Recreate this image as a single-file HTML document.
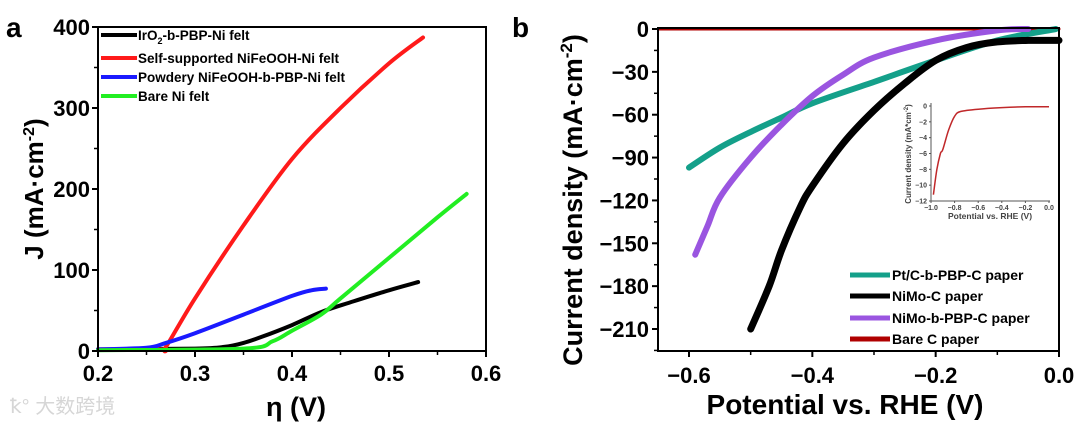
<!DOCTYPE html>
<html><head><meta charset="utf-8"><style>
html,body{margin:0;padding:0;background:#fff;}
svg{display:block;font-family:"Liberation Sans",Arial,sans-serif;}
</style></head><body>
<svg id="c" width="1080" height="426" viewBox="0 0 1080 426" xmlns="http://www.w3.org/2000/svg"></svg>
<script>
// ---- Panel a data ----
const aIrX=[0.2,0.3,0.33,0.35,0.37,0.4,0.43,0.46,0.5,0.53];
const aIrY=[2,3,5,10,18,32,48,60,75,85];
const aSelfX=[0.2,0.265,0.27,0.3,0.35,0.4,0.45,0.5,0.535];
const aSelfY=[2,2,5,65,155,237,300,355,387];
const aPowX=[0.2,0.25,0.27,0.3,0.35,0.4,0.42,0.435];
const aPowY=[2,4,10,22,45,68,75,77];
const aBareX=[0.2,0.35,0.38,0.4,0.43,0.45,0.5,0.55,0.58];
const aBareY=[1,3,12,25,45,65,115,165,194];
const aXTicks=[0.2,0.3,0.4,0.5,0.6];
const aYTicks=[0,100,200,300,400];
// ---- Panel b data ----
const bPtX=[-0.6,-0.55,-0.5,-0.45,-0.4,-0.3,-0.2,-0.1,-0.005];
const bPtY=[-97,-83,-72,-62,-52,-37,-22,-8,0];
const bNmBX=[-0.59,-0.57,-0.55,-0.5,-0.45,-0.4,-0.35,-0.3,-0.2,-0.1,-0.05];
const bNmBY=[-158,-138,-118,-90,-67,-47,-32,-20,-8,-1,0];
const bNmX=[-0.5,-0.47,-0.45,-0.42,-0.4,-0.35,-0.3,-0.25,-0.2,-0.15,-0.1,-0.05,0];
const bNmY=[-210,-180,-155,-125,-110,-80,-57,-38,-22,-13,-9,-8,-8];
const bBareX=[-0.65,0];
const bBareY=[0,0];
const bXTicks=[-0.6,-0.4,-0.2,0.0];
const bYTicks=[0,-30,-60,-90,-120,-150,-180,-210];
// ---- Inset data ----
const iX=[-0.98,-0.95,-0.92,-0.9,-0.85,-0.8,-0.75,-0.6,-0.4,-0.2,0];
const iY=[-11.2,-8,-6,-5.5,-3,-1.3,-0.7,-0.4,-0.2,-0.1,-0.1];
const iXTicks=[-1.0,-0.8,-0.6,-0.4,-0.2,0.0];
const iYTicks=[0,-2,-4,-6,-8,-10,-12];

const svg=document.getElementById('c');
const NS='http://www.w3.org/2000/svg';
function el(tag,attrs,parent){const e=document.createElementNS(NS,tag);for(const k in attrs)e.setAttribute(k,attrs[k]);(parent||svg).appendChild(e);return e;}
function lin(d0,d1,r0,r1){return v=>r0+(v-d0)*(r1-r0)/(d1-d0);}
function path(xs,ys,sx,sy){
  const P=xs.map((x,i)=>[sx(x),sy(ys[i])]);
  if(P.length<3)return 'M'+P.map(p=>p[0].toFixed(1)+' '+p[1].toFixed(1)).join(' L');
  let d='M'+P[0][0].toFixed(1)+' '+P[0][1].toFixed(1);
  for(let i=0;i<P.length-1;i++){
    const p0=P[i-1]||P[i],p1=P[i],p2=P[i+1],p3=P[i+2]||p2;
    const c1=[p1[0]+(p2[0]-p0[0])/6,p1[1]+(p2[1]-p0[1])/6];
    const c2=[p2[0]-(p3[0]-p1[0])/6,p2[1]-(p3[1]-p1[1])/6];
    d+=' C'+c1[0].toFixed(1)+' '+c1[1].toFixed(1)+' '+c2[0].toFixed(1)+' '+c2[1].toFixed(1)+' '+p2[0].toFixed(1)+' '+p2[1].toFixed(1);
  }
  return d;
}

// ===== Panel a =====
const ax=lin(0.2,0.6,98,486), ay=lin(0,400,351,27);
let g=el('g',{});


let t=el('text',{x:6,y:37,'font-size':28,'font-weight':'bold'},g);t.textContent='a';

const aSeries=[[aIrX,aIrY,'#000','iro2-line'],[aSelfX,aSelfY,'#ff1a1a','self-supported-line'],[aPowX,aPowY,'#1a1aff','powdery-line'],[aBareX,aBareY,'#22ee22','bare-ni-line']];
aSeries.forEach(s=>{const p=el('path',{d:path(s[0],s[1],ax,ay),fill:'none',stroke:s[2],'stroke-width':4,'stroke-linejoin':'round','stroke-linecap':'round'},g);
});
let fr=el('rect',{x:98,y:27,width:388,height:324,fill:'none',stroke:'#000','stroke-width':2},g);

aXTicks.forEach(v=>{el('line',{x1:ax(v),x2:ax(v),y1:351,y2:357,stroke:'#000','stroke-width':2},g);
const tt=el('text',{x:ax(v),y:381,'font-size':22,'font-weight':'bold','text-anchor':'middle'},g);tt.textContent=v.toFixed(1);
});
[0.25,0.35,0.45,0.55].forEach(v=>el('line',{x1:ax(v),x2:ax(v),y1:351,y2:355,stroke:'#000','stroke-width':1.5},g));
aYTicks.forEach(v=>{el('line',{x1:92,x2:98,y1:ay(v),y2:ay(v),stroke:'#000','stroke-width':2},g);
const tt=el('text',{x:90,y:ay(v)+8,'font-size':22,'font-weight':'bold','text-anchor':'end'},g);tt.textContent=v;
});
[50,150,250,350].forEach(v=>el('line',{x1:94,x2:98,y1:ay(v),y2:ay(v),stroke:'#000','stroke-width':1.5},g));
t=el('text',{x:296,y:416,'font-size':27,'font-weight':'bold','text-anchor':'middle'},g);t.textContent='η (V)';

t=el('text',{transform:'translate(43,189) rotate(-90)','font-size':26,'font-weight':'bold','text-anchor':'middle'},g);
t.innerHTML='J (mA·cm<tspan dy="-9" font-size="16">-2</tspan><tspan dy="9">)</tspan>';

const aLeg=[['#000','IrO','iro2'],['#ff1a1a','Self-supported NiFeOOH-Ni felt','self'],['#1a1aff','Powdery NiFeOOH-b-PBP-Ni felt','powdery'],['#22ee22','Bare Ni felt','bare']];
const aLegY=[35,58,77,96];
aLeg.forEach((l,i)=>{const lg=el('g',{},g);
el('line',{x1:101,x2:137,y1:aLegY[i],y2:aLegY[i],stroke:l[0],'stroke-width':4},lg);
const tt=el('text',{x:138,y:aLegY[i]+5,'font-size':13.5,'font-weight':'bold'},lg);
if(i===0)tt.innerHTML='IrO<tspan dy="4" font-size="9">2</tspan><tspan dy="-4">-b-PBP-Ni felt</tspan>';else tt.textContent=l[1];});
t=el('text',{x:10,y:413,'font-size':20,fill:'#d6d6d6','font-family':'"Liberation Sans","Noto Sans CJK SC",sans-serif'},g);t.textContent='ꝁ° 大数跨境';


// ===== Panel b =====
const bx=lin(-0.6,0,689,1059), by=lin(0,-210,29,329);
g=el('g',{});


t=el('text',{x:512,y:37,'font-size':28,'font-weight':'bold'},g);t.textContent='b';

const bSeries=[[bBareX,bBareY,'#b00000',3,'bare-c-line'],[bPtX,bPtY,'#14a08a',6,'ptc-line'],[bNmBX,bNmBY,'#9a55e0',6,'nimo-bpbp-line'],[bNmX,bNmY,'#000',7,'nimo-c-line']];
bSeries.forEach(s=>{const p=el('path',{d:path(s[0],s[1],bx,by),fill:'none',stroke:s[2],'stroke-width':s[3],'stroke-linejoin':'round','stroke-linecap':'round'},g);
});
fr=el('rect',{x:658,y:28,width:401,height:323,fill:'none',stroke:'#000','stroke-width':2},g);

bXTicks.forEach(v=>{el('line',{x1:bx(v),x2:bx(v),y1:351,y2:357,stroke:'#000','stroke-width':2},g);
const tt=el('text',{x:bx(v),y:383,'font-size':22,'font-weight':'bold','text-anchor':'middle'},g);tt.textContent=(v===0?'0.0':'−'+Math.abs(v).toFixed(1));
});
[-0.5,-0.3,-0.1].forEach(v=>el('line',{x1:bx(v),x2:bx(v),y1:351,y2:355,stroke:'#000','stroke-width':1.5},g));
bYTicks.forEach(v=>{el('line',{x1:652,x2:658,y1:by(v),y2:by(v),stroke:'#000','stroke-width':2},g);
const tt=el('text',{x:649,y:by(v)+8,'font-size':22,'font-weight':'bold','text-anchor':'end'},g);tt.textContent=(v===0?'0':'−'+Math.abs(v));
});
[-15,-45,-75,-105,-135,-165,-195,-225].forEach(v=>el('line',{x1:654,x2:658,y1:by(v),y2:by(v),stroke:'#000','stroke-width':1.5},g));
t=el('text',{x:845,y:414,'font-size':28,'font-weight':'bold','text-anchor':'middle'},g);t.textContent='Potential vs. RHE (V)';

t=el('text',{transform:'translate(582,200) rotate(-90)','font-size':27,'font-weight':'bold','text-anchor':'middle'},g);
t.innerHTML='Current density (mA·cm<tspan dy="-10" font-size="17">-2</tspan><tspan dy="10">)</tspan>';

const bLeg=[['#14a08a','Pt/C-b-PBP-C paper','ptc'],['#000','NiMo-C paper','nimo-c'],['#9a55e0','NiMo-b-PBP-C paper','nimo-bpbp'],['#b00000','Bare C paper','bare-c']];
const bLegY=[275,296,318,339];
bLeg.forEach((l,i)=>{const lg=el('g',{},g);
el('line',{x1:850,x2:890,y1:bLegY[i],y2:bLegY[i],stroke:l[0],'stroke-width':5},lg);
const tt=el('text',{x:892,y:bLegY[i]+5,'font-size':14,'font-weight':'bold'},lg);tt.textContent=l[1];});

// ===== Inset =====
const ix=lin(-1,0,931,1049), iy=lin(0,-12,106,201);
const ig=el('g',{},g);


const ip=el('path',{d:path(iX,iY,ix,iy),fill:'none',stroke:'#c0282a','stroke-width':1.5},ig);

el('line',{x1:931,x2:931,y1:103,y2:201,stroke:'#555','stroke-width':1},ig);
el('line',{x1:931,x2:1050,y1:201,y2:201,stroke:'#555','stroke-width':1},ig);
iXTicks.forEach(v=>{el('line',{x1:ix(v),x2:ix(v),y1:201,y2:203,stroke:'#555'},ig);
const tt=el('text',{x:ix(v),y:210,'font-size':7,'font-weight':'bold',fill:'#444','text-anchor':'middle'},ig);tt.textContent=(v===0?'0.0':'−'+Math.abs(v).toFixed(1));
});
iYTicks.forEach(v=>{el('line',{x1:929,x2:931,y1:iy(v),y2:iy(v),stroke:'#555'},ig);
const tt=el('text',{x:927,y:iy(v)+2.5,'font-size':7,'font-weight':'bold',fill:'#444','text-anchor':'end'},ig);tt.textContent=(v===0?'0':'−'+Math.abs(v));
});
t=el('text',{x:990,y:219,'font-size':8.5,'font-weight':'bold',fill:'#444','text-anchor':'middle'},ig);t.textContent='Potential vs. RHE (V)';

t=el('text',{transform:'translate(911,154) rotate(-90)','font-size':8,'font-weight':'bold',fill:'#444','text-anchor':'middle'},ig);
t.innerHTML='Current density (mA*cm<tspan dy="-3" font-size="6">-2</tspan><tspan dy="3">)</tspan>';

</script>
</body></html>
